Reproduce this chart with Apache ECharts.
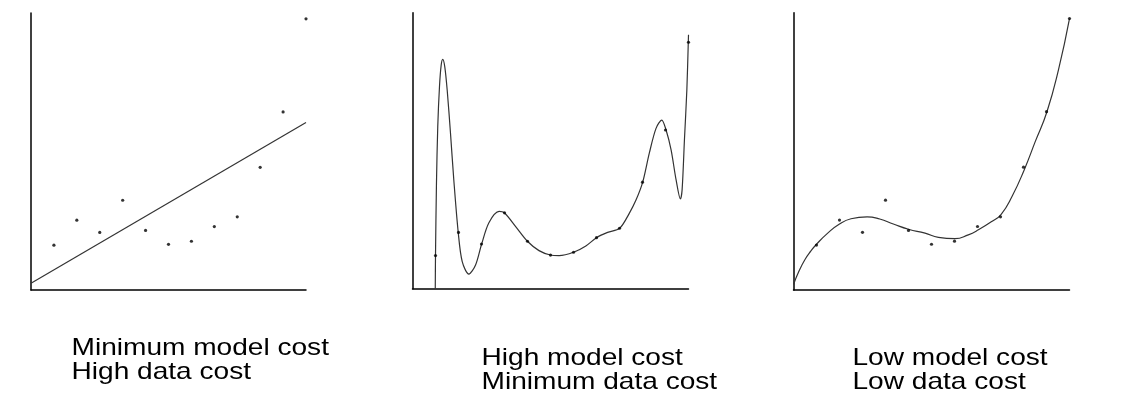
<!DOCTYPE html>
<html>
<head>
<meta charset="utf-8">
<script src="https://cdn.jsdelivr.net/npm/echarts@6/dist/echarts.min.js"></script>
<style>
html,body{margin:0;padding:0;background:#fff;}
#chart{width:1125px;height:414px;}
</style>
</head>
<body>
<div id="chart"></div>
<script>
// ---- data ----
const pointX = [1, 2, 3, 4, 5, 6, 7, 8, 9, 10, 11, 12];
// observations (panels 1 and 3 share the same sample)
const sampleY = [16.2, 25.2, 20.8, 32.4, 21.5, 16.5, 17.6, 22.9, 26.4, 44.3, 64.3, 97.9];
// observations as drawn in panel 2
const sampleY2 = [12.0, 20.4, 16.2, 27.5, 17.2, 12.2, 13.2, 18.5, 21.9, 38.6, 57.5, 89.3];

// panel 1: straight-line model
const lineX = [0, 12];
const lineY = [2.4, 60.5];

// panel 2: high-order model
const overX = [0.99, 1.0, 1.042, 1.098, 1.173, 1.247, 1.316, 1.404, 1.508, 1.652, 1.796, 1.988, 2.162, 2.45, 2.742, 3.003, 3.322, 3.766, 3.993, 4.486, 4.996, 5.501, 5.998, 6.373, 7.001, 7.537, 8.004, 8.483, 9.006, 9.425, 9.717, 10.009, 10.296, 10.588, 10.837, 11.025, 11.243, 11.461, 11.648, 11.722, 11.823, 11.928, 12.0];
const overY = [0, 12.0, 38.2, 58.7, 73.2, 81.0, 83.1, 80.4, 72.0, 56.3, 39.4, 20.4, 9.8, 5.3, 8.6, 16.1, 23.9, 28.0, 27.5, 22.5, 17.2, 13.8, 12.2, 12.0, 13.2, 15.5, 18.5, 20.4, 21.9, 27.3, 32.1, 38.6, 49.1, 58.1, 61.1, 57.5, 50.3, 39.4, 32.5, 35.8, 53.9, 72.0, 92.0];

// panel 3: moderate model
const cubicX = [0, 0.25, 0.5, 0.75, 1.0, 1.5, 2.0, 2.5, 3.2, 3.75, 4.34, 5.0, 5.72, 6.3, 7.02, 7.6, 8.04, 8.62, 9.03, 9.5, 10.03, 10.51, 11.02, 11.52, 12.0];
const cubicY = [2.0, 7.0, 11.0, 14.0, 16.5, 20.6, 23.8, 25.7, 26.4, 25.6, 23.8, 21.9, 20.5, 19.0, 18.5, 19.9, 21.7, 24.7, 27.3, 33.7, 43.3, 53.5, 64.3, 79.4, 97.9];

const captions = [
  'Minimum model cost\nHigh data cost',
  'High model cost\nMinimum data cost',
  'Low model cost\nLow data cost'
];

// ---- chart ----
const zip = (xs, ys) => xs.map((x, i) => [x, ys[i]]);

const grids = [
  { left: 31, top: 13, width: 275, height: 277 },
  { left: 412.5, top: 12.7, width: 276, height: 276 },
  { left: 793.5, top: 12.7, width: 276, height: 277.3 }
];

const axisLine = { show: true, lineStyle: { color: '#000', width: 1.5 } };
const xAxes = grids.map((g, i) => ({
  type: 'value', gridIndex: i, min: 0, max: 12,
  axisLine: axisLine, axisTick: { show: false }, axisLabel: { show: false }, splitLine: { show: false }
}));
const yAxes = grids.map((g, i) => ({
  type: 'value', gridIndex: i, min: 0, max: 100,
  axisLine: axisLine, axisTick: { show: false }, axisLabel: { show: false }, splitLine: { show: false }
}));

const curveStyle = { color: '#333', width: 1.2 };
const dotSeries = (i, ys) => ({
  type: 'scatter', xAxisIndex: i, yAxisIndex: i,
  data: zip(pointX, ys), symbolSize: 3.2,
  itemStyle: { color: '#000' }, silent: true, z: 5
});
const lineSeries = (i, xs, ys, smooth) => ({
  type: 'line', xAxisIndex: i, yAxisIndex: i,
  data: zip(xs, ys), showSymbol: false, smooth: smooth,
  lineStyle: curveStyle, itemStyle: { color: '#333' }, silent: true, clip: true
});

const captionPos = [
  { x: 71.5, y: 336 },
  { x: 481.5, y: 346 },
  { x: 852.5, y: 346 }
];

const option = {
  animation: false,
  backgroundColor: '#fff',
  grid: grids,
  xAxis: xAxes,
  yAxis: yAxes,
  series: [
    dotSeries(0, sampleY),
    lineSeries(0, lineX, lineY, false),
    lineSeries(1, overX, overY, 0.3),
    dotSeries(1, sampleY2),
    lineSeries(2, cubicX, cubicY, 0.5),
    dotSeries(2, sampleY)
  ],
  graphic: captions.map((t, i) => ({
    type: 'text',
    x: captionPos[i].x,
    y: captionPos[i].y,
    scaleX: 1.17,
    style: {
      text: t,
      x: 0, y: 0,
      fill: '#000',
      font: '24px "Liberation Sans", Arial, sans-serif',
      lineHeight: 24.5,
      verticalAlign: 'top',
      align: 'left'
    }
  }))
};

const chart = echarts.init(document.getElementById('chart'), null, { renderer: 'canvas' });
chart.setOption(option);
</script>
</body>
</html>
